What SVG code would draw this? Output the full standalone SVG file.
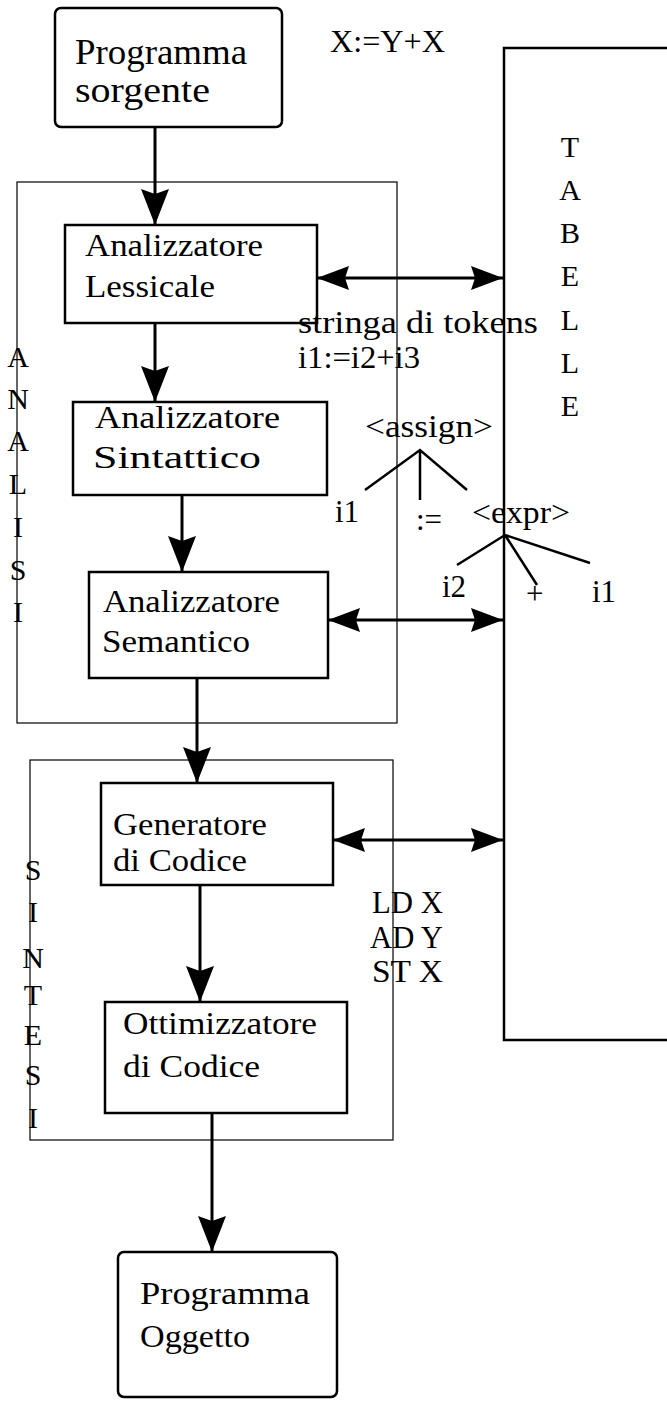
<svg xmlns="http://www.w3.org/2000/svg" width="667" height="1401" viewBox="0 0 667 1401">
<style>
text{font-family:"Liberation Serif","Times New Roman",serif;fill:#000}
.box{fill:#fff;stroke:#000;stroke-width:2.5}
.grp{fill:none;stroke:#000;stroke-width:1.2}
.tab{fill:#fff;stroke:#000;stroke-width:2.5}
.lbl{font-size:31px}
.big{font-size:35px}
.side{font-size:30px;text-anchor:middle}
.tree{fill:none;stroke:#000;stroke-width:2.5}
.conn{fill:none;stroke:#000;stroke-width:3}
</style>
<defs>
<marker id="hd" markerUnits="userSpaceOnUse" markerWidth="40" markerHeight="30" refX="36" refY="14" orient="auto"><path d="M0,0 L36,14 L0,28 L5,14 z" fill="#000"/></marker>
<marker id="hh" markerUnits="userSpaceOnUse" markerWidth="36" markerHeight="28" refX="32" refY="12" orient="auto-start-reverse"><path d="M0,0 L32,12 L0,24 L4,12 z" fill="#000"/></marker>
</defs>

<g id="tabelle">
<rect class="tab" x="504" y="48" width="200" height="992"/>
<text class="side" x="570" y="157">T</text>
<text class="side" x="570" y="200">A</text>
<text class="side" x="570" y="243">B</text>
<text class="side" x="570" y="286">E</text>
<text class="side" x="570" y="330">L</text>
<text class="side" x="570" y="373">L</text>
<text class="side" x="570" y="416">E</text>
</g>

<g id="analisi">
<rect class="grp" x="17" y="182" width="380" height="541"/>
<text class="side" x="18" y="367">A</text>
<text class="side" x="18" y="409">N</text>
<text class="side" x="18" y="451">A</text>
<text class="side" x="18" y="494">L</text>
<text class="side" x="18" y="537">I</text>
<text class="side" x="18" y="580">S</text>
<text class="side" x="18" y="622">I</text>
</g>

<g id="sintesi">
<rect class="grp" x="30" y="760" width="363" height="380"/>
<text class="side" x="33" y="880">S</text>
<text class="side" x="33" y="922">I</text>
<text class="side" x="33" y="968">N</text>
<text class="side" x="33" y="1005">T</text>
<text class="side" x="33" y="1045">E</text>
<text class="side" x="33" y="1085">S</text>
<text class="side" x="33" y="1128">I</text>
</g>

<g id="sorgente">
<rect class="box" x="55" y="8" width="227" height="119" rx="6"/>
<text class="big" x="75" y="64" textLength="172" lengthAdjust="spacingAndGlyphs">Programma</text>
<text class="big" x="75" y="102" textLength="135" lengthAdjust="spacingAndGlyphs">sorgente</text>
</g>

<text id="expr-src" class="lbl" x="330" y="52" textLength="115" lengthAdjust="spacingAndGlyphs">X:=Y+X</text>

<g id="lessicale">
<rect class="box" x="65" y="225" width="252" height="98"/>
<text class="lbl" x="85" y="256" textLength="178" lengthAdjust="spacingAndGlyphs">Analizzatore</text>
<text class="lbl" x="85" y="297" textLength="130" lengthAdjust="spacingAndGlyphs">Lessicale</text>
</g>

<g id="sintattico">
<rect class="box" x="73" y="402" width="254" height="93"/>
<text class="lbl" x="95" y="428" textLength="185" lengthAdjust="spacingAndGlyphs">Analizzatore</text>
<text class="lbl" x="93" y="468" textLength="168" lengthAdjust="spacingAndGlyphs">Sintattico</text>
</g>

<g id="semantico">
<rect class="box" x="89" y="572" width="239" height="106"/>
<text class="lbl" x="103" y="612" textLength="177" lengthAdjust="spacingAndGlyphs">Analizzatore</text>
<text class="lbl" x="102" y="652" textLength="148" lengthAdjust="spacingAndGlyphs">Semantico</text>
</g>

<g id="generatore">
<rect class="box" x="101" y="783" width="232" height="102"/>
<text class="lbl" x="113" y="835" textLength="154" lengthAdjust="spacingAndGlyphs">Generatore</text>
<text class="lbl" x="113" y="871" textLength="134" lengthAdjust="spacingAndGlyphs">di Codice</text>
</g>

<g id="ottimizzatore">
<rect class="box" x="105" y="1002" width="242" height="111"/>
<text class="lbl" x="123" y="1034" textLength="194" lengthAdjust="spacingAndGlyphs">Ottimizzatore</text>
<text class="lbl" x="123" y="1077" textLength="137" lengthAdjust="spacingAndGlyphs">di Codice</text>
</g>

<g id="oggetto">
<rect class="box" x="118" y="1252" width="219" height="145" rx="6"/>
<text class="lbl" x="140" y="1304" textLength="170" lengthAdjust="spacingAndGlyphs">Programma</text>
<text class="lbl" x="140" y="1347" textLength="110" lengthAdjust="spacingAndGlyphs">Oggetto</text>
</g>

<g id="tokens">
<text class="lbl" x="298" y="333" textLength="240" lengthAdjust="spacingAndGlyphs">stringa di tokens</text>
<text class="lbl" x="298" y="368" textLength="122" lengthAdjust="spacingAndGlyphs">i1:=i2+i3</text>
</g>

<g id="parse-tree">
<text class="lbl" x="365" y="437" textLength="128" lengthAdjust="spacingAndGlyphs">&lt;assign&gt;</text>
<path class="tree" d="M365,490 L420,450 L467,490 M420,450 L420,500"/>
<text class="lbl" x="335" y="522">i1</text>
<text class="lbl" x="416" y="530">:=</text>
<text class="lbl" x="472" y="523" textLength="98" lengthAdjust="spacingAndGlyphs">&lt;expr&gt;</text>
<path class="tree" d="M457,565 L505,535 L590,563 M505,535 L537,585"/>
<text class="lbl" x="442" y="597">i2</text>
<text class="lbl" x="526" y="604">+</text>
<text class="lbl" x="592" y="602">i1</text>
</g>

<g id="codice">
<text class="lbl" x="372" y="913" textLength="71" lengthAdjust="spacingAndGlyphs">LD X</text>
<text class="lbl" x="370" y="948" textLength="73" lengthAdjust="spacingAndGlyphs">AD Y</text>
<text class="lbl" x="372" y="982" textLength="71" lengthAdjust="spacingAndGlyphs">ST X</text>
</g>

<g id="connectors">
<line class="conn" x1="155" y1="128" x2="155" y2="225" marker-end="url(#hd)"/>
<line class="conn" x1="155" y1="323" x2="155" y2="402" marker-end="url(#hd)"/>
<line class="conn" x1="182" y1="495" x2="182" y2="572" marker-end="url(#hd)"/>
<line class="conn" x1="197" y1="678" x2="197" y2="783" marker-end="url(#hd)"/>
<line class="conn" x1="200" y1="885" x2="200" y2="1002" marker-end="url(#hd)"/>
<line class="conn" x1="212" y1="1113" x2="212" y2="1252" marker-end="url(#hd)"/>
<line class="conn" x1="317" y1="278" x2="503" y2="278" marker-start="url(#hh)" marker-end="url(#hh)"/>
<line class="conn" x1="328" y1="620" x2="503" y2="620" marker-start="url(#hh)" marker-end="url(#hh)"/>
<line class="conn" x1="333" y1="840" x2="503" y2="840" marker-start="url(#hh)" marker-end="url(#hh)"/>
</g>
</svg>
